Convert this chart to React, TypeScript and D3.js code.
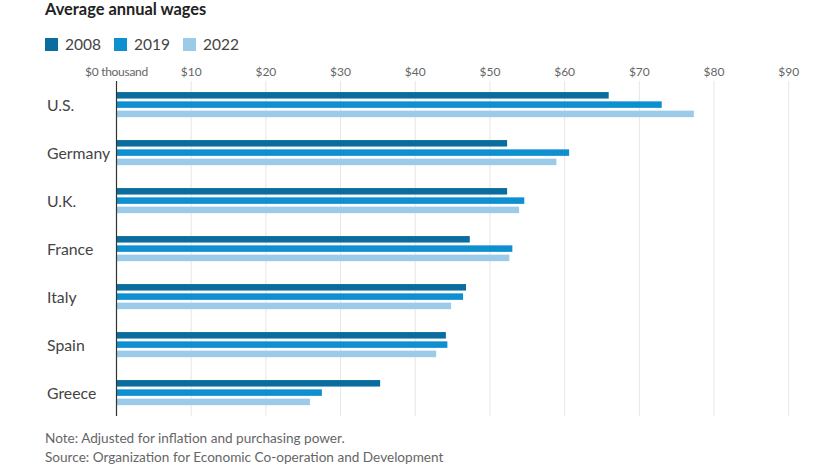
import React from "react";
import * as d3 from "d3";

const countries = ["U.S.", "Germany", "U.K.", "France", "Italy", "Spain", "Greece"];
const years = ["2008", "2019", "2022"];
const wages2008 = [65.9, 52.3, 52.3, 47.3, 46.8, 44.1, 35.3];
const wages2019 = [73.0, 60.6, 54.6, 53.0, 46.4, 44.3, 27.5];
const wages2022 = [77.3, 58.9, 53.9, 52.6, 44.8, 42.8, 25.9];
const ticks = [0, 10, 20, 30, 40, 50, 60, 70, 80, 90];
const tickLabels = ["$0 thousand", "$10", "$20", "$30", "$40", "$50", "$60", "$70", "$80", "$90"];
const colors = ["#0b6d9f", "#0e8fd0", "#9ccbe9"];

const W = 840;
const H = 472;
const FONT = "Lato, 'Noto Sans', sans-serif";

export default function App() {
  const x = d3.scaleLinear().domain([0, 90]).range([116.5, 788.7]);
  const y = d3.scaleBand().domain(countries).range([80.6, 416.6]).padding(0);
  const yInner = d3
    .scaleBand()
    .domain(years)
    .range([-12.55, 12.55])
    .paddingInner(0.3)
    .paddingOuter(0);
  const series = [wages2008, wages2019, wages2022];
  const gridTop = 81;
  const gridBottom = 416;

  return (
    <svg
      width={W}
      height={H}
      style={{ position: "absolute", left: 0, top: 0, background: "#fff" }}
      fontFamily={FONT}
    >
      <text x={45} y={15} fontSize={16.4} fontWeight={700} fill="#222">
        Average annual wages
      </text>
      {years.map((yr, i) => (
        <g key={yr} transform={`translate(${45 + i * 69},0)`}>
          <rect x={0} y={38} width={13} height={13} fill={colors[i]} />
          <text x={20} y={50} fontSize={15.5} fill="#444">
            {yr}
          </text>
        </g>
      ))}
      {ticks.map((t, i) => (
        <g key={t}>
          {t !== 0 && (
            <line
              x1={x(t)}
              x2={x(t)}
              y1={gridTop}
              y2={gridBottom}
              stroke="#e6e6e6"
              strokeWidth={1}
            />
          )}
          <text
            x={x(t)}
            y={76}
            fontSize={12}
            fill="#666"
            textAnchor="middle"
            letterSpacing={t === 0 ? -0.3 : 0}
          >
            {tickLabels[i]}
          </text>
        </g>
      ))}
      {countries.map((c, ci) => {
        const cy = (y(c) as number) + y.bandwidth() / 2;
        return (
          <g key={c}>
            <text x={47} y={cy + 6.5} fontSize={15.8} fill="#444">
              {c}
            </text>
            {years.map((yr, si) => (
              <rect
                key={yr}
                x={x(0)}
                y={cy + (yInner(yr) as number)}
                width={x(series[si][ci]) - x(0)}
                height={yInner.bandwidth()}
                fill={colors[si]}
              />
            ))}
          </g>
        );
      })}
      <line
        x1={x(0)}
        x2={x(0)}
        y1={gridTop}
        y2={gridBottom}
        stroke="#333"
        strokeWidth={1.2}
      />
      <text x={45} y={443} fontSize={13.6} fill="#666">
        Note: Adjusted for inflation and purchasing power.
      </text>
      <text x={45} y={462} fontSize={13.6} fill="#666">
        Source: Organization for Economic Co-operation and Development
      </text>
    </svg>
  );
}
